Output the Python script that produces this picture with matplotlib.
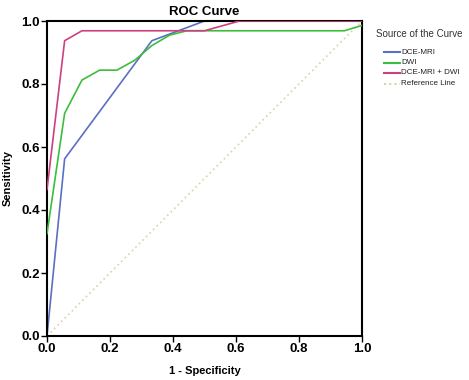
import matplotlib.pyplot as plt
from matplotlib.lines import Line2D

plt.rcParams['font.family'] = ['Liberation Sans', 'DejaVu Sans']

# ROC points (1 - specificity, sensitivity)
dce_x = [0.0, 0.056, 0.333, 0.5, 1.0]
dce_y = [0.0, 0.5625, 0.9375, 1.0, 1.0]

dwi_x = [0.0, 0.056, 0.111, 0.167, 0.222, 0.278, 0.333, 0.389, 0.444, 0.944, 1.0]
dwi_y = [0.325, 0.707, 0.8125, 0.844, 0.844, 0.875, 0.922, 0.955, 0.969, 0.969, 0.986]

both_x = [0.0, 0.056, 0.111, 0.5, 0.611, 1.0]
both_y = [0.465, 0.9375, 0.969, 0.969, 1.0, 1.0]

ref_x = [0.0, 1.0]
ref_y = [0.0, 1.0]

labels = ['DCE-MRI', 'DWI', 'DCE-MRI + DWI', 'Reference Line']
colors = ['#5b6fc3', '#3dbd3d', '#cf3f80', '#d9d3a3']
styles = ['-', '-', '-', (0, (1, 1.5))]

W, H = 469, 380
fig = plt.figure(figsize=(W / 100, H / 100), dpi=100)
ax = fig.add_axes([47 / W, 1 - 336 / H, 315 / W, 315 / H])

ax.plot(ref_x, ref_y, color=colors[3], lw=1.2, linestyle=(0, (1, 2)), zorder=1)
ax.plot(dce_x, dce_y, color=colors[0], lw=1.2, zorder=2)
ax.plot(dwi_x, dwi_y, color=colors[1], lw=1.2, zorder=3)
ax.plot(both_x, both_y, color=colors[2], lw=1.2, zorder=4)

ax.set_xlim(0, 1)
ax.set_ylim(0, 1)
ticks = [0.0, 0.2, 0.4, 0.6, 0.8, 1.0]
ax.set_xticks(ticks)
ax.set_yticks(ticks)
ax.set_xticklabels(['%.1f' % t for t in ticks], fontsize=9.5, fontweight='bold')
ax.set_yticklabels(['%.1f' % t for t in ticks], fontsize=9.5, fontweight='bold')
ax.tick_params(direction='out', length=4, width=1, pad=1)
for s in ax.spines.values():
    s.set_linewidth(1.5)

ax.set_title('ROC Curve', fontsize=9.5, fontweight='bold', pad=4)
ax.set_xlabel('1 - Specificity', fontsize=8, fontweight='bold', labelpad=8)
ax.set_ylabel('Sensitivity', fontsize=8, fontweight='bold', labelpad=6)

# legend drawn by hand, outside the axes on the right
fig.text(376 / W, 1 - 34 / H, 'Source of the Curve', fontsize=7,
         color='#333333', ha='left', va='center')
for i, lab in enumerate(labels):
    yy = 1 - (52 + 10.5 * i) / H
    fig.add_artist(Line2D([384 / W, 400 / W], [yy, yy], color=colors[i],
                          lw=1.5, linestyle=styles[i]))
    fig.text(401 / W, yy, lab, fontsize=5.8, color='#222222',
             ha='left', va='center')

fig.savefig('out.png', dpi=100)
